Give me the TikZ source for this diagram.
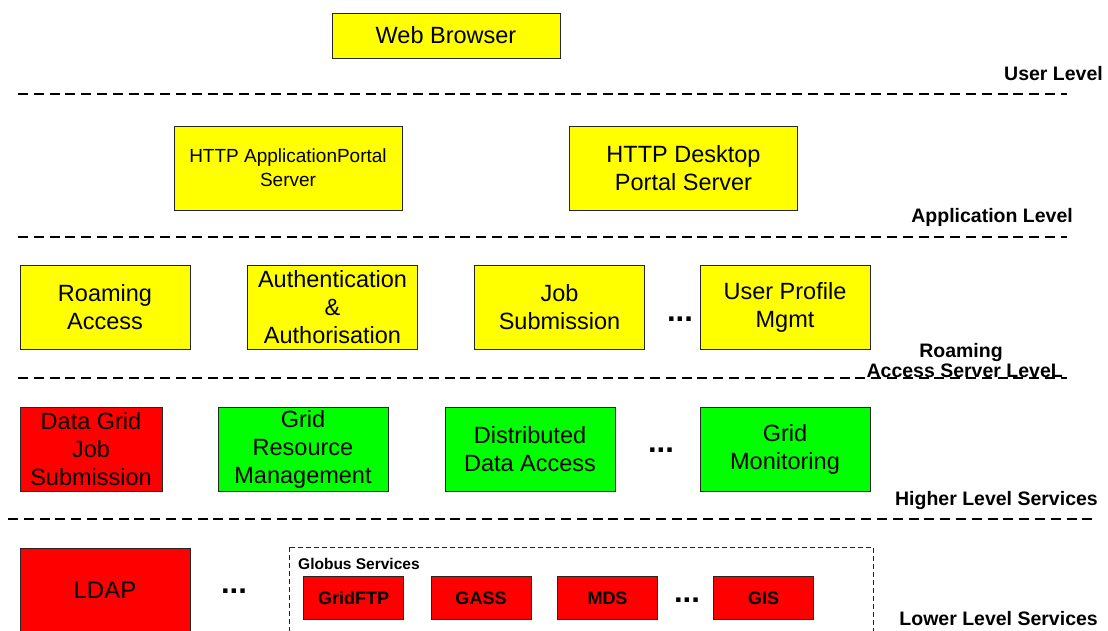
\documentclass[tikz,border=0pt]{standalone}
\usepackage{fontspec}
\setmainfont{Liberation Sans}
\definecolor{yel}{RGB}{255,255,0}
\definecolor{rd}{RGB}{255,0,0}
\definecolor{gr}{RGB}{0,255,0}
\begin{document}
\begin{tikzpicture}[x=1pt,y=-1pt,
  box/.style={draw=black!85, line width=0.9pt, inner sep=0pt, align=center,
    font=\fontsize{23.5}{28}\selectfont},
  ybox/.style={box, fill=yel},
  rbox/.style={box, fill=rd},
  gbox/.style={box, fill=gr},
  sbox/.style={draw=black!85, line width=0.9pt, inner sep=0pt, fill=rd,
    minimum width=100, minimum height=43, font=\fontsize{18}{20}\bfseries\selectfont},
  lvl/.style={inner sep=0pt, anchor=base east, font=\fontsize{19.5}{22}\bfseries\selectfont},
  dots/.style={inner sep=0pt, font=\fontsize{31}{32}\bfseries\selectfont},
  sep/.style={line width=2.6pt, dash pattern=on 10pt off 5.8pt},
  globus/.style={draw=black!85, line width=0.9pt, dash pattern=on 5pt off 3pt}
]
\useasboundingbox (0,0) rectangle (1108,630);
\clip (0,0) rectangle (1108,630);
\fill[white] (0,0) rectangle (1108,630);

% separators
\coordinate (s1a) at (18,94);  \coordinate (s1b) at (1067,94);
\coordinate (s2a) at (18,237); \coordinate (s2b) at (1067,237);
\coordinate (s3a) at (18,378); \coordinate (s3b) at (1067,378);
\coordinate (s4a) at (8,519);  \coordinate (s4b) at (1098,519);
\draw[sep] (s1a) -- (s1b);
\draw[sep] (s2a) -- (s2b);
\draw[sep] (s3a) -- (s3b);
\draw[sep] (s4a) -- (s4b);

% user level
\node[ybox, minimum width=228, minimum height=45] (web) at (446,35.5) {Web Browser};
\node[lvl] (lu) at (1103,80.7) {User Level};

% application level
\node[ybox, minimum width=228, minimum height=84, font=\fontsize{19}{24}\selectfont] (hap) at (288,168) {HTTP ApplicationPortal\\Server};
\node[ybox, minimum width=228, minimum height=84] (hdp) at (683.5,168) {HTTP Desktop\\Portal Server};
\node[lvl] (la) at (1073,222) {Application Level};

% roaming access server level
\node[ybox, minimum width=170, minimum height=84] (ra) at (105,307) {Roaming\\Access};
\node[ybox, minimum width=170, minimum height=84] (aa) at (332.5,307) {Authentication\\\&\\Authorisation};
\node[ybox, minimum width=170, minimum height=84] (js) at (559.5,307) {Job\\Submission};
\node[dots] (d1) at (680,319) {...};
\node[ybox, minimum width=170, minimum height=84] (up) at (785,307) {User Profile\\Mgmt};
\node[inner sep=0pt, anchor=base, font=\fontsize{19.5}{22}\bfseries\selectfont] (lr1) at (961,357) {Roaming};
\node[lvl] (lr2) at (1063,377) {Access Server LeveL};

% higher level services
\node[rbox, minimum width=142, minimum height=84] (dg) at (91,449) {Data Grid\\Job\\Submission};
\node[gbox, minimum width=170, minimum height=84] (grm) at (303,449) {Grid\\Resource\\Management};
\node[gbox, minimum width=170, minimum height=84] (dda) at (530,449) {Distributed\\Data Access};
\node[dots] (d2) at (661,450) {...};
\node[gbox, minimum width=170, minimum height=84] (gm) at (785,449) {Grid\\Monitoring};
\node[lvl] (lh) at (1098,505) {Higher Level Services};

% lower level services
\node[rbox, minimum width=170, minimum height=110] (ldap) at (105,603) {};
\node[inner sep=0pt, anchor=base, font=\fontsize{24}{28}\selectfont] (ldapt) at (105,598) {LDAP};
\node[dots] (d3) at (234,591) {...};
\draw[globus] (289,547) rectangle (873,670);
\node[inner sep=0pt, anchor=base west, font=\fontsize{15.5}{18}\bfseries\selectfont] (gs) at (298,569) {Globus Services};
\node[sbox] (ftp) at (353.5,598) {GridFTP};
\node[sbox] (gass) at (481,598) {GASS};
\node[sbox] (mds) at (607.5,598) {MDS};
\node[dots] (d4) at (687,600) {...};
\node[sbox] (gis) at (763.5,598) {GIS};
\node[lvl] (ll) at (1098,625) {Lower Level Services};
\end{tikzpicture}
\end{document}
